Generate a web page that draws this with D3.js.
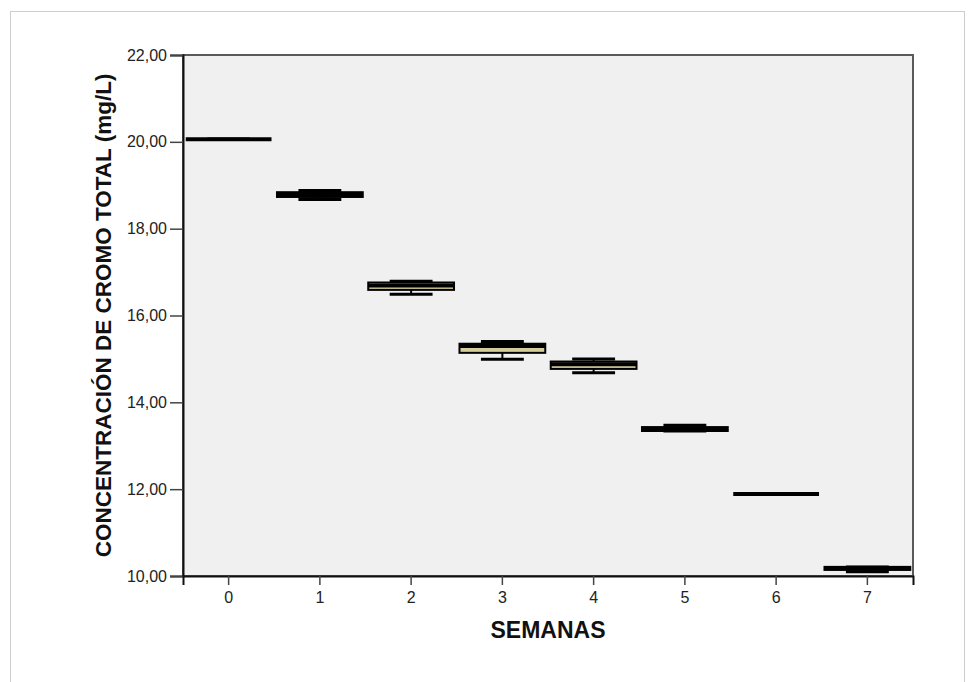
<!DOCTYPE html>
<html>
<head>
<meta charset="utf-8">
<script src="https://cdn.jsdelivr.net/npm/d3@7"></script>
<style>
  body { margin: 0; background: #fff; }
  svg { display: block; font-family: "Liberation Sans", Arial, sans-serif; }
</style>
</head>
<body>
<div id="chart"></div>
<script>
// data (mg/L)
var semanas = ["0", "1", "2", "3", "4", "5", "6", "7"];
var minimo  = [20.06, 18.67, 16.49, 14.99, 14.68, 13.34, 11.89, 10.10];
var q1      = [20.06, 18.73, 16.59, 15.14, 14.77, 13.34, 11.89, 10.14];
var mediana = [20.06, 18.79, 16.69, 15.30, 14.88, 13.38, 11.89, 10.18];
var q3      = [20.06, 18.84, 16.76, 15.35, 14.94, 13.43, 11.89, 10.21];
var maximo  = [20.06, 18.88, 16.79, 15.40, 15.00, 13.47, 11.89, 10.21];
var yTicks  = [10, 12, 14, 16, 18, 20, 22];

function boxplot(){
	var W = 968, H = 682;
	var margin = {top: 55, right: 55, bottom: 106, left: 183};
	var width = W - margin.left - margin.right, height = H - margin.top - margin.bottom;

	var root = d3.select("#chart")
		.append("svg")
		.attr("width", W)
		.attr("height", H);

	// outer frame
	root.append("rect")
		.attr("x", 10.5).attr("y", 11.5)
		.attr("width", 954).attr("height", 700)
		.attr("fill", "#fff")
		.attr("stroke", "#cdcdcd");

	var svg = root.append("g")
		.attr("transform", "translate(" + margin.left + "," + margin.top + ")");

	var x = d3.scaleBand().domain(semanas).range([0, width]).padding(0);
	var y = d3.scaleLinear().domain([10, 22]).range([height, 0]);

	// plot background
	svg.append("rect")
		.attr("width", width).attr("height", height)
		.attr("fill", "#f0f0f0")
		.attr("stroke", "#5a5a5a")
		.attr("stroke-width", 2);

	// axes
	var fmt = function(d){ return d3.format(".2f")(d).replace(".", ","); };
	var yAxis = svg.append("g")
		.call(d3.axisLeft(y).tickValues(yTicks).tickFormat(fmt).tickSize(13).tickPadding(3));
	var xAxis = svg.append("g")
		.attr("transform", "translate(0," + height + ")")
		.call(d3.axisBottom(x).tickSize(9).tickPadding(7));
	[yAxis, xAxis].forEach(function(a){
		a.select(".domain").attr("stroke", "#111").attr("stroke-width", 2);
		a.selectAll(".tick line").attr("stroke", "#444").attr("stroke-width", 1.5);
		a.selectAll(".tick text").attr("font-size", 16).attr("fill", "#222")
			.attr("font-family", "Liberation Sans, Arial, sans-serif");
	});

	// axis titles
	svg.append("text")
		.attr("x", width / 2)
		.attr("y", height + 62)
		.attr("text-anchor", "middle")
		.attr("font-size", 23)
		.attr("font-weight", "bold")
		.attr("fill", "#111")
		.text("SEMANAS");

	svg.append("text")
		.attr("transform", "rotate(-90)")
		.attr("x", -height / 2)
		.attr("y", -72)
		.attr("text-anchor", "middle")
		.attr("font-size", 22.5)
		.attr("font-weight", "bold")
		.attr("fill", "#111")
		.text("CONCENTRACIÓN DE CROMO TOTAL (mg/L)");

	// boxes
	var rows = semanas.map(function(s, i){
		return {k: s, min: minimo[i], q1: q1[i], med: mediana[i], q3: q3[i], max: maximo[i]};
	});
	var bw = x.bandwidth() * 0.94;
	var cw = bw / 2;

	var g = svg.append("g").selectAll("g")
		.data(rows)
		.enter()
		.append("g")
		.attr("transform", function(d){ return "translate(" + (x(d.k) + x.bandwidth() / 2) + ",0)"; });

	// whiskers
	g.append("line")
		.attr("y1", function(d){ return y(d.max); })
		.attr("y2", function(d){ return y(d.min); })
		.attr("stroke", "#000").attr("stroke-width", 2);
	g.selectAll(".cap")
		.data(function(d){ return [d.min, d.max]; })
		.enter().append("line")
		.attr("class", "cap")
		.attr("x1", -cw / 2).attr("x2", cw / 2)
		.attr("y1", function(v){ return y(v); })
		.attr("y2", function(v){ return y(v); })
		.attr("stroke", "#000").attr("stroke-width", 3);

	g.append("rect")
		.attr("x", -bw / 2)
		.attr("width", bw)
		.attr("y", function(d){ return y(d.q3); })
		.attr("height", function(d){ return y(d.q1) - y(d.q3); })
		.attr("fill", "#d3cd9b")
		.attr("stroke", "#000").attr("stroke-width", 2);

	g.append("line")
		.attr("x1", -bw / 2).attr("x2", bw / 2)
		.attr("y1", function(d){ return y(d.med); })
		.attr("y2", function(d){ return y(d.med); })
		.attr("stroke", "#000").attr("stroke-width", 4);
}

boxplot();
</script>
</body>
</html>
